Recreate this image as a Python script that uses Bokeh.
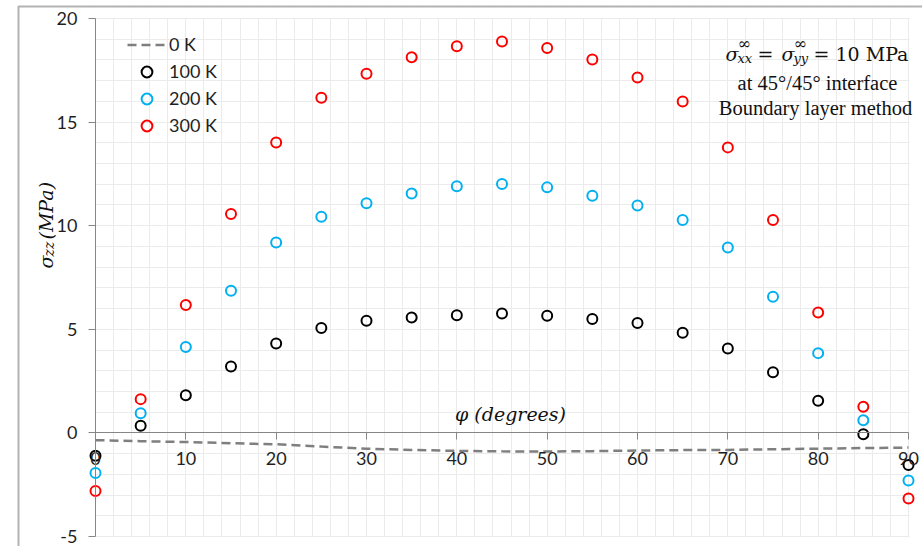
from math import pi
from bokeh.plotting import figure
from bokeh.models import Range1d, SingleIntervalTicker, FixedTicker, Label, BoxAnnotation
from bokeh.embed import file_html
from bokeh.resources import INLINE

# ---- data ----
angles = [0, 5, 10, 15, 20, 25, 30, 35, 40, 45, 50, 55, 60, 65, 70, 75, 80, 85, 90]
sigma_0K = [-0.35, -0.40, -0.44, -0.50, -0.55, -0.66, -0.76, -0.82, -0.87, -0.89,
            -0.90, -0.88, -0.85, -0.83, -0.82, -0.79, -0.76, -0.73, -0.71]
sigma_100K = [-1.10, 0.34, 1.82, 3.20, 4.31, 5.06, 5.41, 5.57, 5.68, 5.76,
              5.65, 5.50, 5.30, 4.83, 4.07, 2.93, 1.55, -0.06, -1.55]
sigma_200K = [-1.93, 0.95, 4.15, 6.86, 9.19, 10.43, 11.08, 11.55, 11.90, 12.01,
              11.85, 11.45, 10.97, 10.27, 8.95, 6.57, 3.85, 0.61, -2.30]
sigma_300K = [-2.80, 1.63, 6.17, 10.56, 14.02, 16.17, 17.33, 18.13, 18.66, 18.89,
              18.58, 18.02, 17.15, 15.99, 13.78, 10.27, 5.81, 1.26, -3.17]
series_labels = ["0 K", "100 K", "200 K", "300 K"]
x_ticks = [0, 10, 20, 30, 40, 50, 60, 70, 80, 90]
y_ticks = [-5, 0, 5, 10, 15, 20]
y_tick_labels = ["-5", "0", "5", "10", "15", "20"]
x_lo, x_hi = 0, 90
y_lo, y_hi = -5, 20

TICK_FONT = "Lato"
MATH_FONT = "DejaVu Serif"
TIMES = "Liberation Serif"

# frame covers the whole canvas; axes cross at the origin
W, H = 922, 546
px_x0, px_x1 = 95, 908      # screen x of x_lo / x_hi
px_y1, px_y0 = 18, 536      # screen y of y_hi / y_lo
sx = (px_x1 - px_x0) / (x_hi - x_lo)
sy = (px_y0 - px_y1) / (y_hi - y_lo)

p = figure(width=W, height=H,
           x_range=Range1d(x_lo - px_x0 / sx, x_hi + (W - px_x1) / sx),
           y_range=Range1d(y_lo - (H - px_y0) / sy, y_hi + px_y1 / sy),
           output_backend="svg", toolbar_location=None,
           min_border_left=0, min_border_right=0, min_border_top=0, min_border_bottom=0,
           background_fill_color="white", border_fill_color="white")
p.outline_line_color = None

# grid
p.xgrid.ticker = SingleIntervalTicker(interval=2)
p.ygrid.ticker = SingleIntervalTicker(interval=1)
p.grid.grid_line_color = "#ebebeb"
p.grid.grid_line_width = 1

# white masks so the grid stays inside the plot area
mask = dict(fill_color="white", fill_alpha=1, line_alpha=0, level="underlay")
p.add_layout(BoxAnnotation(right=x_lo, **mask))
p.add_layout(BoxAnnotation(left=x_hi + 0.12, **mask))
p.add_layout(BoxAnnotation(bottom=y_hi + 0.03, **mask))
p.add_layout(BoxAnnotation(top=y_lo - 0.03, **mask))

for ax in (p.xaxis, p.yaxis):
    ax.fixed_location = 0
    ax.axis_line_color = "#868686"
    ax.major_tick_line_color = "#868686"
    ax.major_tick_in = 0
    ax.major_tick_out = 7
    ax.minor_tick_line_color = None
    ax.major_label_text_font = TICK_FONT
    ax.major_label_text_font_size = "18px"
    ax.major_label_text_color = "#1f1f1f"
p.xaxis.ticker = FixedTicker(ticks=x_ticks)
p.yaxis.ticker = FixedTicker(ticks=y_ticks)
p.yaxis.major_label_overrides = {t: s for t, s in zip(y_ticks, y_tick_labels)}
p.xaxis.bounds = (x_lo, x_hi)
p.yaxis.bounds = (y_lo, y_hi)
p.xaxis.major_label_standoff = 12
p.yaxis.major_label_standoff = 11

# data
p.line(angles, sigma_0K, line_color="#7f7f7f", line_width=2.5, line_dash="9 5",
       legend_label=series_labels[0])
for ys, col, name in ((sigma_100K, "#000000", series_labels[1]),
                      (sigma_200K, "#00b0f0", series_labels[2]),
                      (sigma_300K, "#ff0000", series_labels[3])):
    p.scatter(angles, ys, marker="circle", size=10, fill_color=None,
              line_color=col, line_width=2, legend_label=name)

leg = p.legend[0]
leg.location = (127, H - 30.5 - 108)
leg.glyph_width = 39
leg.glyph_height = 27
leg.label_height = 27
leg.spacing = 0
leg.padding = 0
leg.margin = 0
leg.label_standoff = 3
leg.border_line_color = None
leg.background_fill_alpha = 0
leg.label_text_font = TICK_FONT
leg.label_text_font_size = "18px"
leg.label_text_color = "#1f1f1f"

def lab(text, x, y, size, font=MATH_FONT, style="normal", align="left", angle=0):
    p.add_layout(Label(text=text, x=x, y=y, x_units="canvas", y_units="canvas",
                       text_font=font, text_font_size=f"{size}px", text_font_style=style,
                       text_align=align, text_baseline="alphabetic", angle=angle,
                       text_color="#111111"))

# axis titles
lab("φ (degrees)", 510, 413, 19, style="italic", align="center")
lab("σ", 45, 268, 19, style="italic", angle=pi / 2)
lab("zz", 48, 256, 14, style="italic", angle=pi / 2)
lab("(MPa)", 45, 239, 19, style="italic", angle=pi / 2)

# annotation block
lab("σ", 725, 53, 19, style="italic")
lab("∞", 737, 43, 16)
lab("xx", 737, 58, 13, style="italic")
lab("=", 757, 53, 19)
lab("σ", 781, 53, 19, style="italic")
lab("∞", 793, 43, 16)
lab("yy", 793, 58, 13, style="italic")
lab("=", 813, 53, 19)
lab("10 MPa", 835, 53, 19)
lab("at 45°/45° interface", 817, 82, 20.5, font=TIMES, align="center")
lab("Boundary layer method", 815, 107, 20.5, font=TIMES, align="center")

# outer chart border (top and left edges visible)
p.add_layout(BoxAnnotation(left=18, right=1000, top=6, bottom=800,
                           left_units="canvas", right_units="canvas",
                           top_units="canvas", bottom_units="canvas",
                           fill_alpha=0, line_color="black", line_width=2))

open("out.html", "w").write(file_html(p, INLINE))
